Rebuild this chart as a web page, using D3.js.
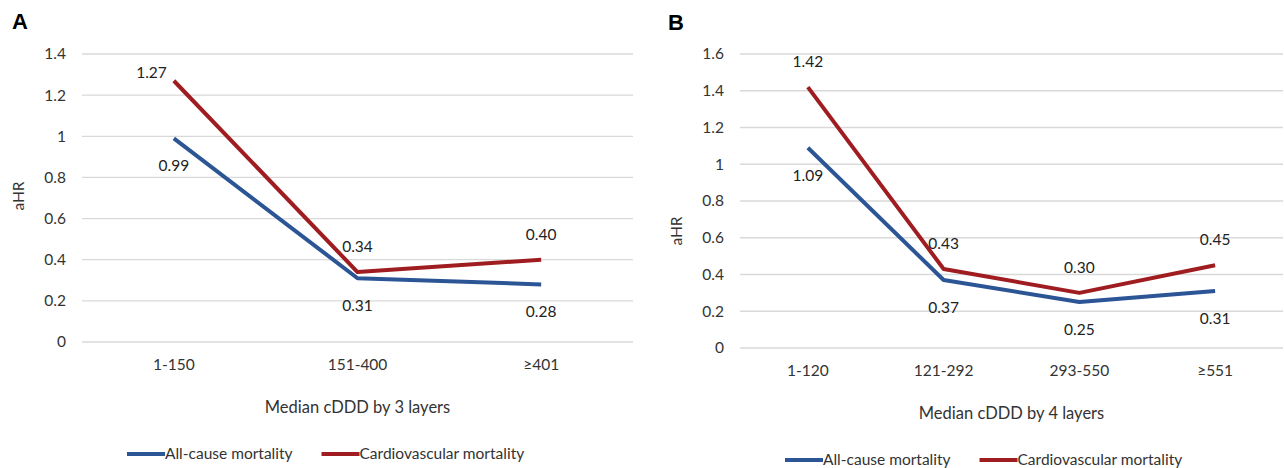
<!DOCTYPE html>
<html>
<head>
<meta charset="utf-8">
<script src="https://cdn.jsdelivr.net/npm/d3@7"></script>
<style>
  body { margin: 0; background: #fff; }
  svg { font-family: Lato, "Open Sans", sans-serif; }
</style>
</head>
<body>
<script>
// panel A: 3 layers
var catsA = ["1-150", "151-400", "\u2265401"];
var allCauseA = [0.99, 0.31, 0.28];
var cardioA = [1.27, 0.34, 0.40];
var ticksA = [0, 0.2, 0.4, 0.6, 0.8, 1, 1.2, 1.4];

// panel B: 4 layers
var catsB = ["1-120", "121-292", "293-550", "\u2265551"];
var allCauseB = [1.09, 0.37, 0.25, 0.31];
var cardioB = [1.42, 0.43, 0.30, 0.45];
var ticksB = [0, 0.2, 0.4, 0.6, 0.8, 1, 1.2, 1.4, 1.6];

var seriesNames = ["All-cause mortality", "Cardiovascular mortality"];
var colors = ["#2c5596", "#9f1d20"];

var W = 1284, H = 468;
var svg = d3.select("body").append("svg").attr("width", W).attr("height", H);

var panels = [
  { letter: "A", lx: 12, ly: 29, left: 82, right: 633, top: 54, bottom: 342, yMax: 1.4, ticks: ticksA,
    cats: catsA, series: [allCauseA, cardioA], title: "Median cDDD by 3 layers", aHRy: 196 },
  { letter: "B", lx: 668, ly: 30, left: 740, right: 1283, top: 54, bottom: 348, yMax: 1.6, ticks: ticksB,
    cats: catsB, series: [allCauseB, cardioB], title: "Median cDDD by 4 layers", aHRy: 231 }
];

panels.forEach(function(p, pi){
  var g = svg.append("g");

  var x = d3.scaleBand().domain(p.cats).range([p.left, p.right]);
  var y = d3.scaleLinear().domain([0, p.yMax]).range([p.bottom, p.top]);

  g.append("text").attr("x", p.lx).attr("y", p.ly)
    .style("font-family", "'Liberation Sans', Arial, sans-serif")
    .style("font-weight", "bold").style("font-size", "22px").attr("fill", "#000")
    .text(p.letter);

  // gridlines
  g.selectAll(".grid").data(p.ticks).enter().append("line")
    .attr("x1", p.left).attr("x2", p.right)
    .attr("y1", function(d){ return y(d); }).attr("y2", function(d){ return y(d); })
    .attr("stroke", "#d9d9d9").attr("stroke-width", 1.3);

  // y axis labels
  var yAxis = d3.axisLeft(y).tickValues(p.ticks).tickSize(0).tickPadding(16)
    .tickFormat(function(d){ return d3.format("~g")(d); });
  var ya = g.append("g").attr("transform", "translate(" + p.left + ",0)").call(yAxis);
  ya.select(".domain").remove();
  ya.selectAll("text").style("font-size", "15.5px").style("font-family", "Lato, sans-serif").attr("fill", "#333");

  // x axis labels
  var xAxis = d3.axisBottom(x).tickSize(0).tickPadding(17);
  var xa = g.append("g").attr("transform", "translate(0," + p.bottom + ")").call(xAxis);
  xa.select(".domain").remove();
  xa.selectAll("text").style("font-size", "15.5px").style("font-family", "Lato, sans-serif").attr("fill", "#333");

  // axis titles
  g.append("text").attr("x", (p.left + p.right) / 2).attr("y", p.bottom + 71)
    .attr("text-anchor", "middle").style("font-size", "16.5px").attr("fill", "#333").text(p.title);
  g.append("text").attr("transform", "translate(" + (p.left - 58) + "," + p.aHRy + ") rotate(-90)")
    .attr("text-anchor", "middle").style("font-size", "15.5px").attr("fill", "#333").text("aHR");

  // lines
  var line = d3.line()
    .x(function(d, i){ return x(p.cats[i]) + x.bandwidth() / 2; })
    .y(function(d){ return y(d); });

  p.series.forEach(function(vals, si){
    g.append("path").datum(vals).attr("d", line)
      .attr("fill", "none").attr("stroke", colors[si]).attr("stroke-width", 4)
      .attr("stroke-linejoin", "round");
  });

  // data labels: all-cause below, cardiovascular above
  p.series.forEach(function(vals, si){
    g.selectAll(".lab" + si).data(vals).enter().append("text")
      .attr("x", function(d, i){
        var cx = x(p.cats[i]) + x.bandwidth() / 2;
        if (si === 1 && i === 0 && pi === 0) return cx - 7;
        return cx;
      })
      .attr("y", function(d, i){
        if (si === 1 && i === 0 && pi === 0) return y(d) - 3;
        return si === 0 ? y(d) + 33 : y(d) - 20;
      })
      .attr("text-anchor", function(d, i){ return (si === 1 && i === 0 && pi === 0) ? "end" : "middle"; })
      .style("font-size", "15.5px").attr("fill", "#222")
      .text(function(d){ return d.toFixed(2); });
  });

  // legend
  var ly = p.bottom + 112;
  var lx = p.left + 45;
  seriesNames.forEach(function(name, si){
    g.append("line").attr("x1", lx).attr("x2", lx + 38).attr("y1", ly).attr("y2", ly)
      .attr("stroke", colors[si]).attr("stroke-width", 4);
    var t = g.append("text").attr("x", lx + 38).attr("y", ly + 5)
      .style("font-size", "15.5px").attr("fill", "#333").text(name);
    lx += 38 + t.node().getComputedTextLength() + 29;
  });
});
</script>
</body>
</html>
